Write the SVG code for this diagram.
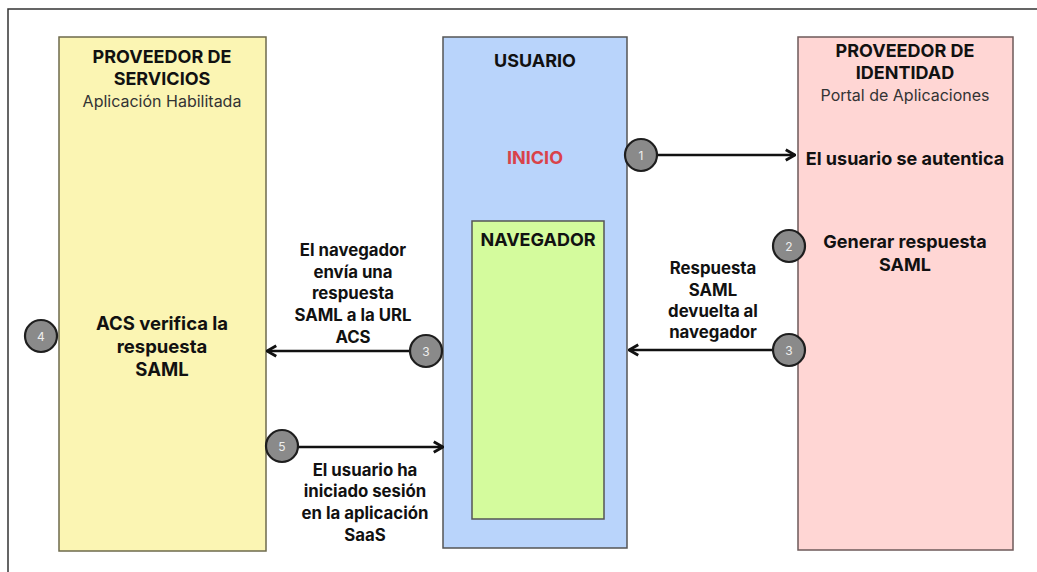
<svg xmlns="http://www.w3.org/2000/svg" width="1037" height="572" viewBox="0 0 1037 572">
  <style>
    text { font-family: Inter, "Liberation Sans", sans-serif; fill: #111; text-anchor: middle; }
    .h { font-size: 18px; font-weight: 700; }
    .sub { font-size: 16px; font-weight: 400; fill: #333; }
    .lbl { font-size: 16.8px; font-weight: 700; }
    .big { font-size: 18.5px; font-weight: 700; }
    .num { font-size: 12px; fill: #eee; font-weight: 400; }
    .step { fill: #8a8a8a; stroke: #1e1e1e; stroke-width: 2.2; }
    .conn { stroke: #111; stroke-width: 2.4; fill: none; marker-end: url(#arrow); }
  </style>
  <defs>
    <marker id="arrow" viewBox="0 0 10 10" refX="9" refY="5" markerWidth="5.5" markerHeight="5.5" orient="auto" markerUnits="strokeWidth">
      <path d="M2,1 L9,5 L2,9" fill="none" stroke="#111" stroke-width="2.2"/>
    </marker>
  </defs>

  <rect x="0" y="0" width="1037" height="572" fill="#fff"/>
  <!-- frame edges -->
  <path d="M8,572 V9 H1037" fill="none" stroke="#333" stroke-width="1.5"/>

  <!-- service provider -->
  <g id="sp">
    <rect x="59" y="37" width="207" height="514" fill="#fbf5b3" stroke="#6e6a4c" stroke-width="1.5"/>
    <text class="h" x="162" y="63">PROVEEDOR DE</text>
    <text class="h" x="162" y="85">SERVICIOS</text>
    <text class="sub" x="162" y="107">Aplicación Habilitada</text>
    <text class="big" x="162" y="330">ACS verifica la</text>
    <text class="big" x="162" y="353">respuesta</text>
    <text class="big" x="162" y="376">SAML</text>
  </g>

  <!-- user -->
  <g id="user">
    <rect x="443" y="37" width="184" height="511" fill="#b9d4fb" stroke="#555" stroke-width="1.5"/>
    <text class="h" x="535" y="67">USUARIO</text>
    <text class="h" x="535" y="164" style="fill:#d9434a">INICIO</text>
  </g>

  <!-- browser -->
  <g id="browser">
    <rect x="472" y="221" width="132" height="298" fill="#d4fb9d" stroke="#555" stroke-width="1.5"/>
    <text class="h" x="538" y="246">NAVEGADOR</text>
  </g>

  <!-- identity provider -->
  <g id="idp">
    <rect x="798" y="37" width="215" height="513" fill="#ffd6d4" stroke="#6e5a5a" stroke-width="1.5"/>
    <text class="h" x="905" y="57">PROVEEDOR DE</text>
    <text class="h" x="905" y="79">IDENTIDAD</text>
    <text class="sub" x="905" y="101">Portal de Aplicaciones</text>
    <text class="h" x="905" y="165">El usuario se autentica</text>
    <text class="h" x="905" y="248">Generar respuesta</text>
    <text class="h" x="905" y="271">SAML</text>
  </g>

  <!-- connectors -->
  <g id="connectors">
    <line class="conn" x1="657" y1="155" x2="795" y2="155"/>
    <line class="conn" x1="773" y1="350" x2="629" y2="350"/>
    <line class="conn" x1="410" y1="351" x2="267" y2="351"/>
    <line class="conn" x1="298" y1="447" x2="443" y2="447"/>
  </g>

  <!-- connector labels -->
  <g id="labels">
    <text class="lbl" x="713" y="274">Respuesta</text>
    <text class="lbl" x="713" y="296">SAML</text>
    <text class="lbl" x="713" y="317">devuelta al</text>
    <text class="lbl" x="713" y="338">navegador</text>
    <text class="lbl" x="353" y="256">El navegador</text>
    <text class="lbl" x="353" y="278">envía una</text>
    <text class="lbl" x="353" y="299">respuesta</text>
    <text class="lbl" x="353" y="321">SAML a la URL</text>
    <text class="lbl" x="353" y="343">ACS</text>
    <text class="lbl" x="365" y="476">El usuario ha</text>
    <text class="lbl" x="365" y="497">iniciado sesión</text>
    <text class="lbl" x="365" y="519">en la aplicación</text>
    <text class="lbl" x="365" y="541">SaaS</text>
  </g>

  <!-- step markers -->
  <g id="step1"><circle class="step" cx="641" cy="155" r="16"/><text class="num" x="641" y="159.5">1</text></g>
  <g id="step2"><circle class="step" cx="789" cy="246" r="16"/><text class="num" x="789" y="250.5">2</text></g>
  <g id="step3b"><circle class="step" cx="789" cy="350" r="16"/><text class="num" x="789" y="354.5">3</text></g>
  <g id="step3a"><circle class="step" cx="426" cy="351" r="16"/><text class="num" x="426" y="355.5">3</text></g>
  <g id="step4"><circle class="step" cx="41" cy="336" r="16"/><text class="num" x="41" y="340.5">4</text></g>
  <g id="step5"><circle class="step" cx="282" cy="446" r="16"/><text class="num" x="282" y="450.5">5</text></g>
</svg>
